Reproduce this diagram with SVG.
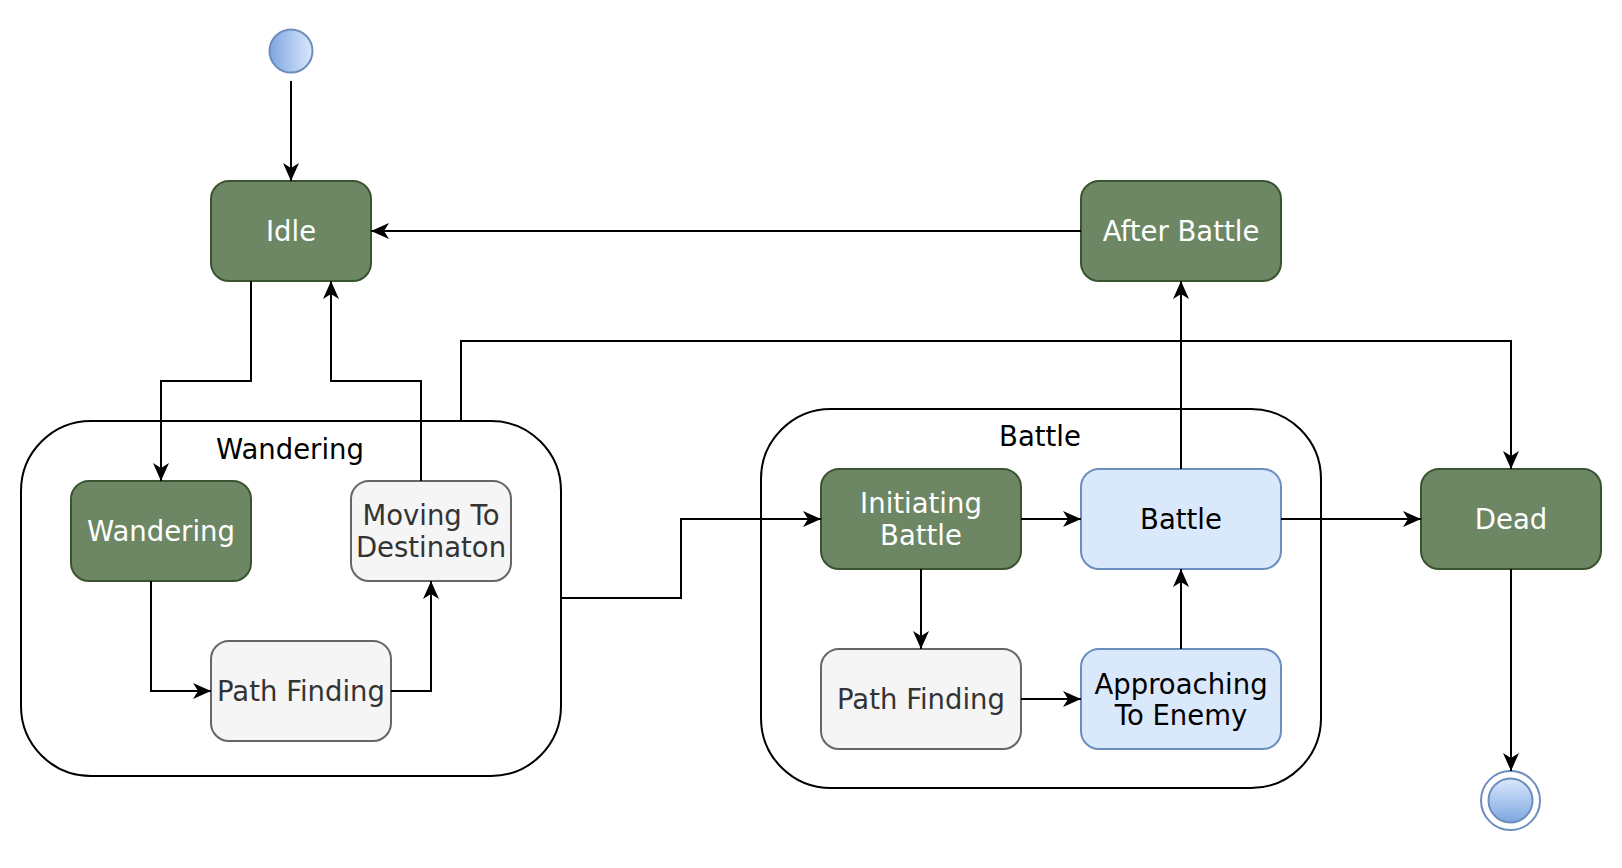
<svg xmlns="http://www.w3.org/2000/svg" width="1622" height="868" viewBox="0 0 1622 868">
<defs>
<style>
text{font-family:"DejaVu Sans","Liberation Sans",sans-serif;font-size:27.5px;text-anchor:middle}
.green rect{fill:#6d8764;stroke:#3a5431;stroke-width:2}
.green text{fill:#ffffff}
.gray rect{fill:#f5f5f5;stroke:#666666;stroke-width:2}
.gray text{fill:#333333}
.blue rect{fill:#dae8fc;stroke:#6c8ebf;stroke-width:2}
.blue text{fill:#000000}
.container rect{fill:#ffffff;stroke:#000000;stroke-width:2}
.container text{fill:#000000}
.conn path{fill:none;stroke:#000000;stroke-width:2;marker-end:url(#arr)}
</style>
<marker id="arr" markerUnits="userSpaceOnUse" viewBox="0 0 18 16" refX="18" refY="8" markerWidth="18" markerHeight="16" orient="auto">
<path d="M0,0 L18,8 L0,16 L5,8 Z" fill="#000000"/>
</marker>
<linearGradient id="gStart" x1="0" y1="0" x2="1" y2="0">
<stop offset="0" stop-color="#7ea6e0"/>
<stop offset="1" stop-color="#dae8fc"/>
</linearGradient>
<linearGradient id="gEnd" x1="0" y1="0" x2="0" y2="1">
<stop offset="0" stop-color="#dae8fc"/>
<stop offset="1" stop-color="#7ea6e0"/>
</linearGradient>
</defs>
<rect width="1622" height="868" fill="#ffffff"/>

<g id="container-wandering" class="container">
<rect x="21" y="421" width="540" height="355" rx="70" ry="70"/>
<text x="290" y="459">Wandering</text>
</g>
<g id="container-battle" class="container">
<rect x="761" y="409" width="560" height="379" rx="70" ry="70"/>
<text x="1040" y="446">Battle</text>
</g>

<g id="start">
<circle cx="291" cy="51" r="21.5" fill="url(#gStart)" stroke="#6c8ebf" stroke-width="2"/>
</g>
<g id="end">
<circle cx="1510.5" cy="800.5" r="29.5" fill="#ffffff" stroke="#6c8ebf" stroke-width="2"/>
<circle cx="1510.5" cy="800.5" r="22" fill="url(#gEnd)" stroke="#6c8ebf" stroke-width="2"/>
</g>

<g id="idle" class="green">
<rect x="211" y="181" width="160" height="100" rx="18" ry="18"/>
<text x="291" y="241">Idle</text>
</g>
<g id="after-battle" class="green">
<rect x="1081" y="181" width="200" height="100" rx="18" ry="18"/>
<text x="1181" y="241">After Battle</text>
</g>
<g id="wandering" class="green">
<rect x="71" y="481" width="180" height="100" rx="18" ry="18"/>
<text x="161" y="541">Wandering</text>
</g>
<g id="moving" class="gray">
<rect x="351" y="481" width="160" height="100" rx="18" ry="18"/>
<text x="431" y="525">Moving To</text>
<text x="431" y="557">Destinaton</text>
</g>
<g id="path-finding-1" class="gray">
<rect x="211" y="641" width="180" height="100" rx="18" ry="18"/>
<text x="301" y="701">Path Finding</text>
</g>
<g id="initiating" class="green">
<rect x="821" y="469" width="200" height="100" rx="18" ry="18"/>
<text x="921" y="513">Initiating</text>
<text x="921" y="545">Battle</text>
</g>
<g id="battle" class="blue">
<rect x="1081" y="469" width="200" height="100" rx="18" ry="18"/>
<text x="1181" y="529">Battle</text>
</g>
<g id="path-finding-2" class="gray">
<rect x="821" y="649" width="200" height="100" rx="18" ry="18"/>
<text x="921" y="709">Path Finding</text>
</g>
<g id="approaching" class="blue">
<rect x="1081" y="649" width="200" height="100" rx="18" ry="18"/>
<text x="1181" y="694">Approaching</text>
<text x="1181" y="725">To Enemy</text>
</g>
<g id="dead" class="green">
<rect x="1421" y="469" width="180" height="100" rx="18" ry="18"/>
<text x="1511" y="529">Dead</text>
</g>

<g id="connectors" class="conn">
<path d="M291,81 V181"/>
<path d="M251,281 V381 H161 V481"/>
<path d="M421,481 V381 H331 V281"/>
<path d="M461,421 V341 H1511 V469"/>
<path d="M151,581 V691 H211"/>
<path d="M391,691 H431 V581"/>
<path d="M561,598 H681 V519 H821"/>
<path d="M1021,519 H1081"/>
<path d="M921,569 V649"/>
<path d="M1021,699 H1081"/>
<path d="M1181,649 V569"/>
<path d="M1181,469 V281"/>
<path d="M1281,519 H1421"/>
<path d="M1081,231 H371"/>
<path d="M1511,569 V771"/>
</g>
</svg>
